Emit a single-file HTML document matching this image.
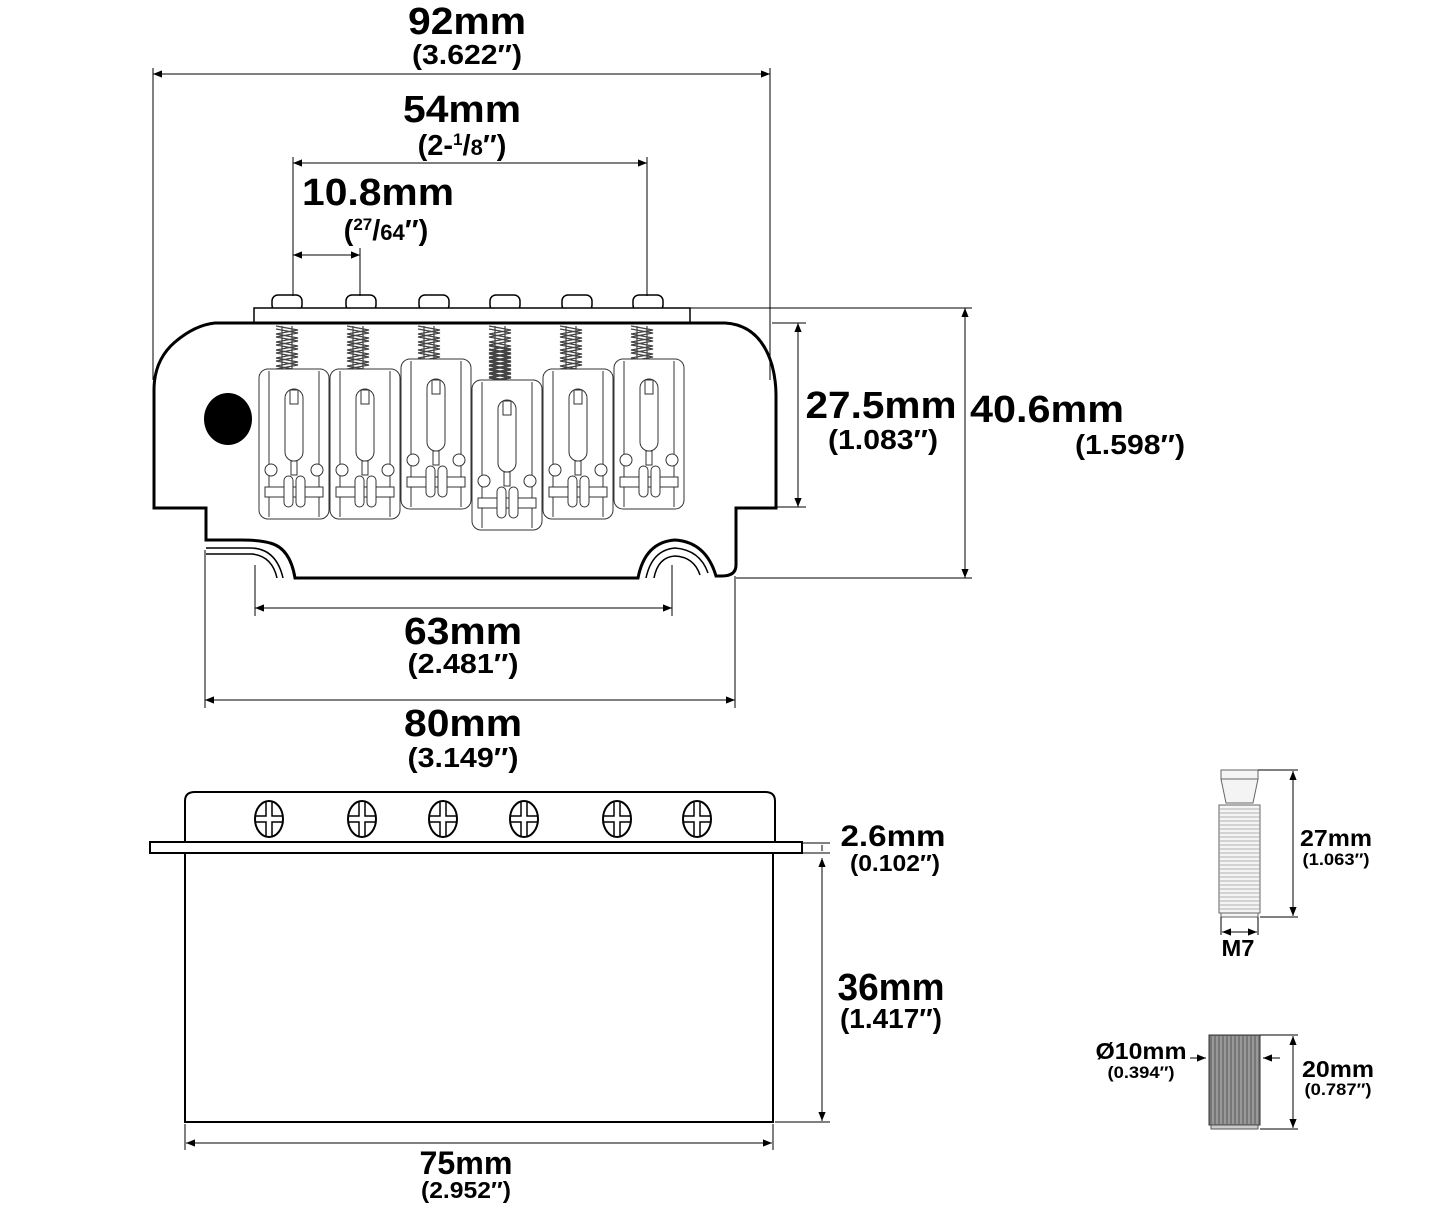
<!DOCTYPE html>
<html><head><meta charset="utf-8"><style>
body{margin:0;background:#fff}
svg{display:block}
text{font-family:"Liberation Sans",Arial,sans-serif;font-weight:bold;fill:#000;text-anchor:middle}
</style></head><body>
<svg width="1445" height="1210" viewBox="0 0 1445 1210" xmlns="http://www.w3.org/2000/svg">
<defs>
<marker id="a" viewBox="0 0 10 10" refX="10" refY="5" markerWidth="9" markerHeight="9" orient="auto-start-reverse" markerUnits="userSpaceOnUse"><path d="M0,1 L10,5 L0,9 z" fill="#000"/></marker>
<g id="sad" fill="#fff" stroke="#333" stroke-width="1">
<rect x="0" y="0" width="70" height="150" rx="9"/>
<line x1="10" y1="2" x2="10" y2="148"/><line x1="60" y1="2" x2="60" y2="148"/>
<rect x="26" y="20" width="18" height="72" rx="9"/>
<rect x="31" y="21" width="8" height="14"/>
<rect x="32" y="92" width="6" height="14"/>
<circle cx="12" cy="101" r="6"/><circle cx="58" cy="101" r="6"/>
<rect x="6" y="118" width="58" height="10"/>
<rect x="25" y="107" width="9" height="31" rx="4.5"/><rect x="37" y="107" width="9" height="31" rx="4.5"/>
</g>
<g id="spr" fill="none" stroke="#444" stroke-width="1.2">
<path d="M0,0 l22,4 l-22,4 l22,4 l-22,4 l22,4 l-22,4 l22,4 l-22,4 l22,4 l-22,4 l22,4 l-22,4 l22,4 l-22,4 l22,4"/>
<path d="M0,3 l22,4 l-22,4 l22,4 l-22,4 l22,4 l-22,4 l22,4 l-22,4 l22,4 l-22,4 l22,4 l-22,4 l22,4 l-22,4"/>
<line x1="6" y1="0" x2="6" y2="64"/><line x1="16" y1="0" x2="16" y2="64"/>
</g>
<g id="scr" fill="#fff" stroke="#000" stroke-width="2">
<ellipse cx="0" cy="0" rx="14" ry="18"/>
<path d="M-3,-17 V-3 H-13 M3,-17 V-3 H13 M-3,17 V3 H-13 M3,17 V3 H13" stroke-width="1.5"/>
</g>
</defs>

<g fill="#fff" stroke="#000" stroke-width="1.5">
<rect x="272" y="295" width="30" height="16" rx="6"/><rect x="346" y="295" width="30" height="16" rx="6"/>
<rect x="419" y="295" width="30" height="16" rx="6"/><rect x="490" y="295" width="30" height="16" rx="6"/>
<rect x="562" y="295" width="30" height="16" rx="6"/><rect x="633" y="295" width="30" height="16" rx="6"/>
<rect x="254" y="308" width="436" height="15"/>
</g>
<path d="M215,323 H725 Q760,325 772,365 Q776,380 776,395 V508 H736 V565 Q736,576 722,576 L716,576 Q706,542 675,540 Q645,542 638,578 H295 Q290,548 270,543 Q260,540 240,540 H206 V508 H154 V390 Q154,360 175,342 Q195,325 215,323 Z" fill="#fff" stroke="#000" stroke-width="3"/>
<path d="M206,548 H250 Q276,548 283,578 M206,554 H252 Q272,556 277,578" fill="none" stroke="#000" stroke-width="1.5"/>
<path d="M646,578 Q652,550 675,548 Q700,550 708,573 M654,578 Q658,557 675,556 Q694,557 700,575" fill="none" stroke="#000" stroke-width="1.5"/>
<ellipse cx="228" cy="419" rx="24" ry="26" fill="#000"/>
<use href="#spr" x="276" y="326"/><use href="#spr" x="347" y="326"/><use href="#spr" x="418" y="326"/>
<use href="#spr" x="489" y="326"/><use href="#spr" x="560" y="326"/><use href="#spr" x="631" y="326"/>
<use href="#spr" x="489" y="346"/>
<use href="#sad" x="259" y="369"/><use href="#sad" x="330" y="369"/><use href="#sad" x="401" y="359"/>
<use href="#sad" x="472" y="380"/><use href="#sad" x="543" y="369"/><use href="#sad" x="614" y="359"/>

<g stroke="#000" stroke-width="1" fill="none">
<line x1="153" y1="68" x2="153" y2="380"/><line x1="770" y1="68" x2="770" y2="380"/>
<line x1="293" y1="157" x2="293" y2="296"/><line x1="647" y1="157" x2="647" y2="296"/>
<line x1="360" y1="248" x2="360" y2="296"/>
<line x1="153" y1="74" x2="770" y2="74" marker-start="url(#a)" marker-end="url(#a)"/>
<line x1="293" y1="163" x2="647" y2="163" marker-start="url(#a)" marker-end="url(#a)"/>
<line x1="293" y1="255" x2="360" y2="255" marker-start="url(#a)" marker-end="url(#a)"/>
<line x1="772" y1="323" x2="806" y2="323"/><line x1="772" y1="507" x2="806" y2="507"/>
<line x1="798" y1="323" x2="798" y2="507" marker-start="url(#a)" marker-end="url(#a)"/>
<line x1="690" y1="308" x2="972" y2="308"/><line x1="736" y1="578" x2="972" y2="578"/>
<line x1="965" y1="308" x2="965" y2="578" marker-start="url(#a)" marker-end="url(#a)"/>
<line x1="255" y1="565" x2="255" y2="616"/><line x1="672" y1="565" x2="672" y2="616"/>
<line x1="255" y1="608" x2="672" y2="608" marker-start="url(#a)" marker-end="url(#a)"/>
<line x1="205" y1="550" x2="205" y2="708"/><line x1="735" y1="576" x2="735" y2="708"/>
<line x1="205" y1="700" x2="735" y2="700" marker-start="url(#a)" marker-end="url(#a)"/>
</g>
<g lengthAdjust="spacingAndGlyphs">
<text x="467" y="34" font-size="38" textLength="118" lengthAdjust="spacingAndGlyphs">92mm</text>
<text x="467" y="64" font-size="28" textLength="110" lengthAdjust="spacingAndGlyphs">(3.622″)</text>
<text x="462" y="122" font-size="38" textLength="118" lengthAdjust="spacingAndGlyphs">54mm</text>
<text x="462" y="155" font-size="29">(2-<tspan font-size="17" dy="-10">1</tspan><tspan dy="10">/</tspan><tspan font-size="22">8</tspan>″)</text>
<text x="378" y="205" font-size="38" textLength="152" lengthAdjust="spacingAndGlyphs">10.8mm</text>
<text x="386" y="240" font-size="29">(<tspan font-size="17" dy="-10">27</tspan><tspan dy="10">/</tspan><tspan font-size="22">64</tspan>″)</text>
<text x="881" y="418" font-size="38" textLength="151" lengthAdjust="spacingAndGlyphs">27.5mm</text>
<text x="883" y="449" font-size="28" textLength="110" lengthAdjust="spacingAndGlyphs">(1.083″)</text>
<text x="1047" y="422" font-size="38" textLength="154" lengthAdjust="spacingAndGlyphs">40.6mm</text>
<text x="1130" y="454" font-size="28" textLength="110" lengthAdjust="spacingAndGlyphs">(1.598″)</text>
<text x="463" y="644" font-size="38" textLength="118" lengthAdjust="spacingAndGlyphs">63mm</text>
<text x="463" y="673" font-size="28" textLength="111" lengthAdjust="spacingAndGlyphs">(2.481″)</text>
<text x="463" y="736" font-size="38" textLength="118" lengthAdjust="spacingAndGlyphs">80mm</text>
<text x="463" y="767" font-size="28" textLength="111" lengthAdjust="spacingAndGlyphs">(3.149″)</text>
</g>

<path d="M185,843 V801 Q185,792 195,792 H765 Q775,792 775,801 V843" fill="#fff" stroke="#000" stroke-width="2"/>
<use href="#scr" x="269" y="819"/><use href="#scr" x="362" y="819"/><use href="#scr" x="443" y="819"/>
<use href="#scr" x="524" y="819"/><use href="#scr" x="617" y="819"/><use href="#scr" x="697" y="819"/>
<rect x="150" y="842" width="652" height="11" fill="#fff" stroke="#000" stroke-width="2"/>
<rect x="185" y="853" width="588" height="269" fill="#fff" stroke="#000" stroke-width="2"/>
<g stroke="#000" stroke-width="1" fill="none">
<line x1="802" y1="843" x2="830" y2="843"/><line x1="802" y1="853" x2="830" y2="853"/>
<line x1="775" y1="1122" x2="830" y2="1122"/>
<line x1="822" y1="845" x2="822" y2="851"/>
<line x1="822" y1="858" x2="822" y2="1121" marker-start="url(#a)" marker-end="url(#a)"/>
<line x1="185" y1="1124" x2="185" y2="1150"/><line x1="773" y1="1124" x2="773" y2="1150"/>
<line x1="186" y1="1143" x2="772" y2="1143" marker-start="url(#a)" marker-end="url(#a)"/>
</g>
<text x="893" y="846" font-size="30" textLength="105" lengthAdjust="spacingAndGlyphs">2.6mm</text>
<text x="895" y="871" font-size="23" textLength="90" lengthAdjust="spacingAndGlyphs">(0.102″)</text>
<text x="891" y="1000" font-size="38" textLength="107" lengthAdjust="spacingAndGlyphs">36mm</text>
<text x="891" y="1028" font-size="28" textLength="102" lengthAdjust="spacingAndGlyphs">(1.417″)</text>
<text x="466" y="1174" font-size="32" textLength="93" lengthAdjust="spacingAndGlyphs">75mm</text>
<text x="466" y="1198" font-size="23" textLength="90" lengthAdjust="spacingAndGlyphs">(2.952″)</text>

<g stroke="#666" stroke-width="1" fill="#f4f4f4">
<rect x="1221" y="770" width="37" height="9"/>
<path d="M1221,779 H1258 L1253,803 H1226 Z"/>
<rect x="1219" y="805" width="41" height="108"/>
<rect x="1221" y="913" width="37" height="4"/>
</g>
<g stroke="#999" stroke-width="0.8">
<path d="M1219,809h41M1219,813h41M1219,817h41M1219,821h41M1219,825h41M1219,829h41M1219,833h41M1219,837h41M1219,841h41M1219,845h41M1219,849h41M1219,853h41M1219,857h41M1219,861h41M1219,865h41M1219,869h41M1219,873h41M1219,877h41M1219,881h41M1219,885h41M1219,889h41M1219,893h41M1219,897h41M1219,901h41M1219,905h41M1219,909h41"/>
</g>
<g stroke="#000" stroke-width="1" fill="none">
<line x1="1258" y1="770" x2="1298" y2="770"/><line x1="1260" y1="917" x2="1298" y2="917"/>
<line x1="1293" y1="771" x2="1293" y2="916" marker-start="url(#a)" marker-end="url(#a)"/>
<line x1="1221" y1="917" x2="1221" y2="935"/><line x1="1258" y1="917" x2="1258" y2="935"/>
<line x1="1222" y1="932" x2="1257" y2="932" marker-start="url(#a)" marker-end="url(#a)"/>
</g>
<text x="1336" y="846" font-size="23" textLength="72" lengthAdjust="spacingAndGlyphs">27mm</text>
<text x="1336" y="865" font-size="17" textLength="67" lengthAdjust="spacingAndGlyphs">(1.063″)</text>
<text x="1238" y="956" font-size="23" textLength="33" lengthAdjust="spacingAndGlyphs">M7</text>

<rect x="1209" y="1035" width="51" height="90" fill="#777" stroke="#333" stroke-width="1"/>
<rect x="1211" y="1125" width="47" height="4" fill="#ccc" stroke="#555" stroke-width="1"/>
<g stroke="#ccc" stroke-width="0.8"><path d="M1213,1036v88M1217,1036v88M1221,1036v88M1225,1036v88M1229,1036v88M1233,1036v88M1237,1036v88M1241,1036v88M1245,1036v88M1249,1036v88M1253,1036v88M1257,1036v88"/></g>
<g stroke="#000" stroke-width="1" fill="none">
<line x1="1190" y1="1058" x2="1206" y2="1058" marker-end="url(#a)"/>
<line x1="1280" y1="1058" x2="1263" y2="1058" marker-end="url(#a)"/>
<line x1="1260" y1="1035" x2="1298" y2="1035"/><line x1="1260" y1="1129" x2="1298" y2="1129"/>
<line x1="1293" y1="1036" x2="1293" y2="1128" marker-start="url(#a)" marker-end="url(#a)"/>
</g>
<text x="1141" y="1059" font-size="23" textLength="91" lengthAdjust="spacingAndGlyphs">Ø10mm</text>
<text x="1141" y="1078" font-size="17" textLength="67" lengthAdjust="spacingAndGlyphs">(0.394″)</text>
<text x="1338" y="1077" font-size="23" textLength="72" lengthAdjust="spacingAndGlyphs">20mm</text>
<text x="1338" y="1095" font-size="17" textLength="67" lengthAdjust="spacingAndGlyphs">(0.787″)</text>
</svg>
</body></html>
